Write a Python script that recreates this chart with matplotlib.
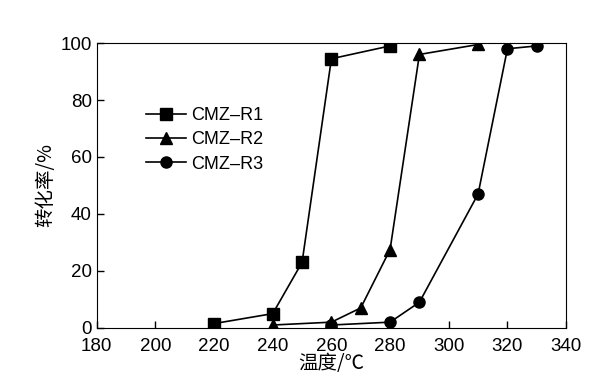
import matplotlib.pyplot as plt

plt.rcParams['font.family'] = ['Liberation Sans', 'Noto Sans CJK SC', 'DejaVu Sans']

# Data
r1_x = [220, 240, 250, 260, 280]
r1_y = [1.5, 5, 23, 94.5, 99]
r2_x = [240, 260, 270, 280, 290, 310]
r2_y = [1, 2, 7, 27.5, 96, 99.5]
r3_x = [260, 280, 290, 310, 320, 330]
r3_y = [1, 2, 9, 47, 98, 99]

fig = plt.figure(figsize=(6.16, 3.88), dpi=100)
ax = fig.add_axes([0.157, 0.155, 0.762, 0.734])

ax.plot(r1_x, r1_y, color='black', lw=1.2, marker='s', ms=8, label='CMZ\u2013R1')
ax.plot(r2_x, r2_y, color='black', lw=1.2, marker='^', ms=8, label='CMZ\u2013R2')
ax.plot(r3_x, r3_y, color='black', lw=1.2, marker='o', ms=8, label='CMZ\u2013R3')

ax.set_xlim(180, 340)
ax.set_ylim(0, 100)
ax.set_xticks(range(180, 341, 20))
ax.set_yticks(range(0, 101, 20))
ax.tick_params(direction='in', length=5, labelsize=13.5, width=1)
ax.tick_params(axis='x', pad=7)
ax.set_xlabel('温度/℃', fontsize=14, family=['Noto Sans CJK SC', 'DejaVu Sans'], labelpad=-1)
ax.set_ylabel('转化率/%', fontsize=14, family=['Noto Sans CJK SC', 'DejaVu Sans'], labelpad=3)

ax.legend(loc='upper left', bbox_to_anchor=(0.09, 0.80), frameon=False, fontsize=13,
          handlelength=2.2, handletextpad=0.3, labelspacing=0.4, borderaxespad=0)

plt.savefig('out.png', dpi=100)
